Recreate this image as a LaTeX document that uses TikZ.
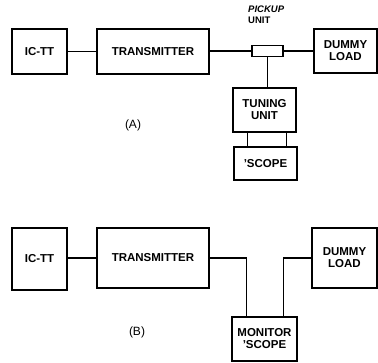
\documentclass[tikz,border=0pt]{standalone}
\usepackage{fontspec}
\setmainfont{Liberation Sans}
\usetikzlibrary{calc}
\begin{document}
\begin{tikzpicture}[x=1pt,y=-1pt,
  blk/.style={draw,line width=1.3pt,inner sep=0pt,align=center,font=\fontsize{11.5}{12}\selectfont\bfseries},
  wire/.style={line width=1.3pt},
  lbl/.style={font=\fontsize{12}{13}\selectfont}]
\useasboundingbox (0,0) rectangle (378,362);
% (A)
\node[blk,minimum width=55pt,minimum height=45pt] (ic1) at (39.5,51.5) {IC-TT};
\node[blk,minimum width=112pt,minimum height=45pt] (tx1) at (153,51.5) {TRANSMITTER};
\node[blk,minimum width=31pt,minimum height=11pt] (pick) at (267.5,51) {};
\node[blk,minimum width=63pt,minimum height=44pt] (dl1) at (345.5,51) {DUMMY\\LOAD};
\node[blk,minimum width=63pt,minimum height=44pt] (tun) at (264.5,110) {TUNING\\UNIT};
\node[blk,minimum width=63pt,minimum height=33pt] (sc1) at (265.5,163.5) {'SCOPE};
\node[anchor=north west,align=left,inner sep=0pt,font=\fontsize{9.5}{10.5}\selectfont\bfseries] (plab) at (248,6) {\itshape PICKUP\\UNIT};
\node[lbl] (la) at (133,125) {(A)};
\draw[wire] (ic1.east) -- (ic1.east -| tx1.west);
\draw[wire] (tx1.east |- pick.west) -- (pick.west);
\draw[wire] (pick.east) -- (pick.east -| dl1.west);
\draw[wire] (pick.south) -- (pick.south |- tun.north);
\draw[wire] ([xshift=15pt]tun.south west) -- ([xshift=15pt]tun.south west |- sc1.north);
\draw[wire] ([xshift=-10pt]tun.south east) -- ([xshift=-10pt]tun.south east |- sc1.north);
% (B)
\node[blk,minimum width=55pt,minimum height=62pt] (ic2) at (39.5,259) {IC-TT};
\node[blk,minimum width=112pt,minimum height=60pt] (tx2) at (153,258) {TRANSMITTER};
\node[blk,minimum width=65pt,minimum height=60pt] (dl2) at (344.5,258) {DUMMY\\LOAD};
\node[blk,minimum width=65pt,minimum height=44pt] (mon) at (264.5,339) {MONITOR\\'SCOPE};
\node[lbl] (lb) at (137,332) {(B)};
\draw[wire] (ic2.east |- tx2.west) -- (tx2.west);
\draw[wire] (tx2.east) -| ([xshift=15pt]mon.north west);
\draw[wire] (dl2.west) -| ([xshift=-14pt]mon.north east);
\end{tikzpicture}
\end{document}
